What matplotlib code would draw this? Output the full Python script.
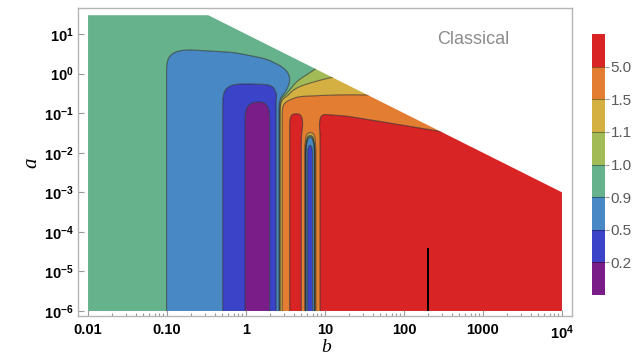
import numpy as np
import matplotlib
matplotlib.use("Agg")
import matplotlib.pyplot as plt
from matplotlib.colors import ListedColormap
from matplotlib.patches import Polygon
from matplotlib.ticker import FixedLocator, NullLocator, NullFormatter

plt.rcParams['font.family'] = ['Liberation Sans', 'DejaVu Sans']
plt.rcParams['mathtext.fontset'] = 'custom'
plt.rcParams['mathtext.rm'] = 'Liberation Sans:bold'
plt.rcParams['mathtext.bf'] = 'Liberation Sans:bold'
plt.rcParams['mathtext.default'] = 'bf'

# ---- parameter window -------------------------------------------------
B_MIN, B_MAX = 0.01, 1.0e4
A_MIN, A_MAX = 1.0e-6, 30.0
AB_MAX = 10.0                      # only a*b <= AB_MAX is physical

# ---- contour levels / colours ----------------------------------------
LEVELS = [0.2, 0.5, 0.9, 1.0, 1.1, 1.5, 5.0]
LEVEL_LABELS = ["0.2", "0.5", "0.9", "1.0", "1.1", "1.5", "5.0"]
BAND_COLORS = ["#7a1d88", "#3b44c8", "#4889c5", "#66b28c",
               "#a3bb56", "#d4b042", "#e37d32", "#d92425"]

# ---- ratio along b in the small-a limit ------------------------------
PROFILE_LOGB = [-2.20, -1.095, -0.975, -0.25, 0.00, 0.17, 0.346, 0.376, 0.401, 0.425,
                0.440, 0.455, 0.520, 0.544, 0.600, 0.680, 0.725, 0.740, 0.748,
                0.754, 0.760, 0.768, 0.780, 0.840, 0.852, 0.860, 0.865, 0.870,
                0.875, 0.930, 0.960, 4.20]
PROFILE_VAL = [0.96, 0.935, 0.90, 0.50, 0.20, 0.08, 0.20, 0.50, 0.90, 1.00,
               1.10, 1.50, 3.00, 5.00, 9.00, 9.00, 5.00, 1.50, 1.10,
               1.00, 0.90, 0.50, 0.22, 0.22, 0.50, 0.90, 1.00, 1.10,
               1.50, 5.00, 9.00, 9.00]

# ---- closing heights (log10 a) of the low-ratio basin ------------------
BASIN_TOP_02 = -0.73
BASIN_TOP_05 = -0.33
EDGE09_LOGB = [-1.00, -0.80, -0.16, 0.27, 0.37, 0.47, 0.53, 0.60]
EDGE09_LOGA = [0.50, 0.54, 0.46, 0.27, 0.13, 0.02, -0.15, -0.25]

# lean of the basin edge towards larger b at larger a
SHEAR_LOGA = [-0.65, -0.45, -0.25, -0.12]
SHEAR_SHIFT = [0.00, 0.04, 0.10, 0.13]

# ---- level crossings (log10 a) above the high-ratio zone --------------
TOP50_LOGB = [0.40, 0.94, 1.28, 2.49, 4.20]
TOP50_LOGA = [-1.00, -1.02, -1.08, -1.50, -2.30]
TOP15_LOGB = [0.47, 0.55, 0.66, 4.20]
TOP15_LOGA = [-0.80, -0.66, -0.61, -0.60]
TOP11_LOGB = [0.50, 0.56, 0.66, 0.87, 1.09, 1.30, 4.20]
TOP11_LOGA = [-0.64, -0.59, -0.40, -0.30, -0.19, -0.10, 0.55]
TOP10_LOGB = [0.50, 0.53, 0.66, 0.785, 0.90, 1.00, 4.20]
TOP10_LOGA = [-0.62, -0.54, -0.26, -0.04, 0.15, 0.31, 1.55]

# closing of the narrow dip near b ~ 6.5
DIP_LOGA = [-1.95, -1.80, -1.53, -1.52, -1.51, -1.49, -1.40]
DIP_VAL = [0.05, 0.50, 0.90, 1.00, 1.10, 1.50, 3.00]

# thin resonance line
LINE_B = [200.0, 200.0]
LINE_A = [1.0e-6, 4.0e-5]

# ---- build the field on a log grid ------------------------------------
u = np.linspace(-2.15, 4.15, 1400)
v = np.linspace(-6.15, 1.70, 900)
U, V = np.meshgrid(u, v)


def column_interp(z, knots, vals):
    """piecewise linear in z through (knot, val) pairs; knots may vary per column"""
    out = np.full(z.shape, float(vals[0]))
    for i in range(len(knots) - 1):
        k0 = np.broadcast_to(knots[i], z.shape)
        k1 = np.broadcast_to(knots[i + 1], z.shape)
        t = np.clip((z - k0) / np.maximum(k1 - k0, 1e-9), 0.0, 1.0)
        out = out + (vals[i + 1] - vals[i]) * t
    return out


ramp = np.clip((U - 0.30) / 0.10, 0.0, 1.0)
Us = U - np.interp(V, SHEAR_LOGA, SHEAR_SHIFT) * ramp
lp = np.interp(Us, PROFILE_LOGB, np.log(PROFILE_VAL))

t09 = np.interp(U, EDGE09_LOGB, EDGE09_LOGA)
g_left = column_interp(V, [BASIN_TOP_02 - 0.35, BASIN_TOP_02, BASIN_TOP_05, t09, t09 + 0.15],
                       np.log([0.05, 0.2, 0.5, 0.9, 0.95]))
g_dip = column_interp(V, DIP_LOGA, np.log(DIP_VAL))
lg = np.where(U < 0.6, g_left, g_dip)

h5 = np.interp(U, TOP50_LOGB, TOP50_LOGA)
h15 = np.interp(U, TOP15_LOGB, TOP15_LOGA)
h11 = np.interp(U, TOP11_LOGB, TOP11_LOGA)
h10 = np.interp(U, TOP10_LOGB, TOP10_LOGA)
lh = column_interp(V, [h5 - 0.2, h5, h15, h11, h10, h10 + 0.2],
                   np.log([9.0, 5.0, 1.5, 1.1, 1.0, 0.95]))

lf = np.minimum(np.maximum(lp, lg), lh)


def gauss_blur(z, sig_x, sig_y):
    for axis, sig in ((1, sig_x), (0, sig_y)):
        r = int(3 * sig) + 1
        k = np.exp(-0.5 * (np.arange(-r, r + 1) / sig) ** 2)
        k /= k.sum()
        pad = [(0, 0), (0, 0)]
        pad[axis] = (r, r)
        zp = np.pad(z, pad, mode='edge')
        n = z.shape[axis]
        acc = np.zeros_like(z)
        for i, w in enumerate(k):
            sl = [slice(None), slice(None)]
            sl[axis] = slice(i, i + n)
            acc += w * zp[tuple(sl)]
        z = acc
    return z


# soft rounding: wide for the broad basin and the upper fan, narrow for the thin stripes
fine = gauss_blur(lf, 8.0, 11.0)
wide = gauss_blur(lf, 17.0, 20.0)
w_fine = np.clip((U - 0.30) / 0.06, 0, 1) * np.clip((-0.45 - V) / 0.15, 0, 1)
lf = w_fine * fine + (1 - w_fine) * wide
F = np.exp(lf)
X = 10.0 ** U
Y = 10.0 ** V

# ---- figure -------------------------------------------------------------
fig = plt.figure(figsize=(6.42, 3.56), dpi=100)
ax = fig.add_axes([78 / 642, 1 - 316 / 356, 494 / 642, 308 / 356])
ax.set_xscale('log')
ax.set_yscale('log')
ax.set_xlim(10 ** -2.127, 10 ** 4.127)
ax.set_ylim(10 ** -6.127, 10 ** 1.66)

bounds = [1e-3] + LEVELS + [1e3]
cf = ax.contourf(X, Y, F, levels=bounds, colors=BAND_COLORS, antialiased=True)
cl = ax.contour(X, Y, F, levels=LEVELS, colors='#222222', linewidths=0.8, alpha=0.6)

region = Polygon([(B_MIN, A_MIN), (B_MIN, A_MAX), (AB_MAX / A_MAX, A_MAX),
                  (B_MAX, AB_MAX / B_MAX), (B_MAX, A_MIN)],
                 closed=True, transform=ax.transData)
cf.set_clip_path(region)
cl.set_clip_path(region)

ax.plot(LINE_B, LINE_A, color='black', lw=1.4, solid_capstyle='butt')

# axes cosmetics
for s in ax.spines.values():
    s.set_color('#b5b5b5')
    s.set_linewidth(1.0)

xt = [0.01, 0.1, 1, 10, 100, 1000, 1e4]
ax.xaxis.set_major_locator(FixedLocator(xt))
ax.set_xticklabels(["0.01", "0.10", "1", "10", "100", "1000", r"$10^{4}$"],
                   fontweight='bold', fontsize=10.5)
minor = [m * 10.0 ** e for e in range(-2, 4) for m in range(2, 10)]
ax.xaxis.set_minor_locator(FixedLocator(minor))
ax.xaxis.set_minor_formatter(NullFormatter())

yt = [10.0 ** e for e in range(-6, 2)]
ax.yaxis.set_major_locator(FixedLocator(yt))
ax.set_yticklabels([r"$10^{%d}$" % e if e >= 0 else r"$10^{-%d}$" % (-e) for e in range(-6, 2)],
                   fontsize=10.5)
ax.yaxis.set_minor_locator(NullLocator())

ax.tick_params(which='both', direction='in', color='#9a9a9a', width=0.8,
               top=False, right=False)
ax.tick_params(which='major', length=4)
ax.tick_params(which='minor', length=2)
ax.tick_params(axis='x', pad=5, labelcolor='black')
ax.tick_params(axis='y', pad=3, labelcolor='black')

fig.text(326 / 642, 1 - 348 / 356, 'b', fontfamily='Liberation Serif',
         fontstyle='italic', fontsize=14, ha='center', va='center')
fig.text(32 / 642, 1 - 163 / 356, 'a', fontfamily='Liberation Serif',
         fontstyle='italic', fontsize=15, ha='center', va='center', rotation=90)

fig.text(473 / 642, 1 - 40 / 356, "Classical", color='#8c8c8c', fontsize=13,
         ha='center', va='center')

# ---- legend bar ---------------------------------------------------------
cax = fig.add_axes([592 / 642, 1 - 295 / 356, 13 / 642, 261 / 356])
cax.imshow(np.arange(len(BAND_COLORS))[:, None], cmap=ListedColormap(BAND_COLORS),
           aspect='auto', origin='lower', extent=[0, 1, 0, len(BAND_COLORS)],
           interpolation='nearest')
for i in range(1, len(BAND_COLORS)):
    cax.axhline(i, color='black', alpha=0.35, lw=0.8)
cax.set_xlim(0, 1)
cax.set_ylim(0, len(BAND_COLORS))
cax.set_xticks([])
cax.yaxis.tick_right()
cax.set_yticks(range(1, len(BAND_COLORS)))
cax.set_yticklabels(LEVEL_LABELS, fontsize=11, color='#5a5a5a')
cax.tick_params(axis='y', length=3, color='#9a9a9a', pad=1)
for s in cax.spines.values():
    s.set_visible(False)

fig.savefig("out.png", dpi=100)
